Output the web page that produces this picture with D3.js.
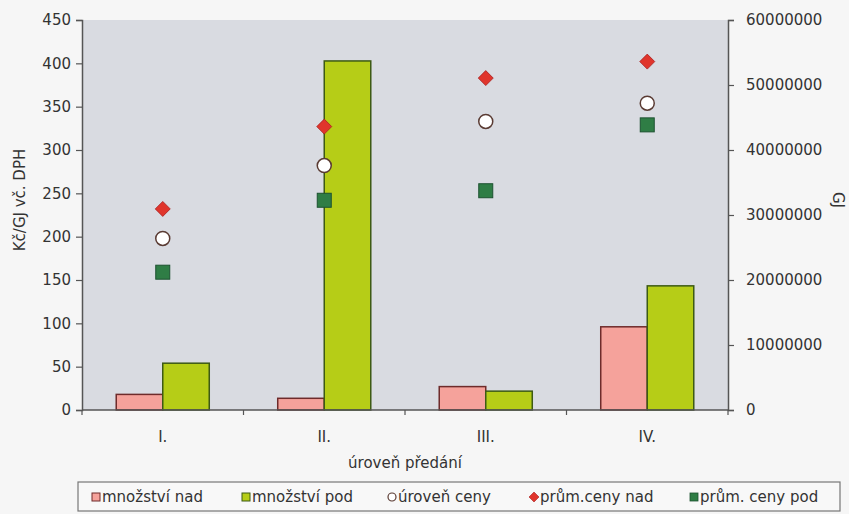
<!DOCTYPE html>
<html>
<head>
<meta charset="utf-8">
<script src="https://cdn.jsdelivr.net/npm/d3@7"></script>
<style>
  html, body { margin: 0; padding: 0; background: #f6f6f6; }
  svg { display: block; }
  text { font-family: "DejaVu Sans", "Liberation Sans", Arial, sans-serif; fill: #333; }
</style>
</head>
<body>
<svg id="chart" width="849" height="514"></svg>
<script>
// ---- data ----
const categories = ["I.", "II.", "III.", "IV."];
const mnozstviNad = [2400000, 1800000, 3600000, 12800000];   // GJ (right axis)
const mnozstviPod = [7200000, 53700000, 2900000, 19100000];  // GJ (right axis)
const urovenCeny  = [198, 282, 333, 354];                    // Kč/GJ (left axis)
const prumCenyNad = [232, 327, 383, 402];
const prumCenyPod = [159, 242, 253, 329];
const leftTicks  = [0, 50, 100, 150, 200, 250, 300, 350, 400, 450];
const rightTicks = [0, 10000000, 20000000, 30000000, 40000000, 50000000, 60000000];
const legendLabels = ["množství nad", "množství pod", "úroveň ceny", "prům.ceny nad", "prům. ceny pod"];

// ---- layout ----
const L = 82, R = 728, T = 20, B = 410;
const svg = d3.select("#chart");

const x = d3.scaleBand().domain(categories).range([L, R]).paddingInner(0.424).paddingOuter(0.212);
const xs = d3.scaleBand().domain(["nad", "pod"]).range([0, x.bandwidth()]);
const yL = d3.scaleLinear().domain([0, 450]).range([B, T]);
const yR = d3.scaleLinear().domain([0, 60000000]).range([B, T]);

// plot background
svg.append("rect").attr("x", L).attr("y", T).attr("width", R - L).attr("height", B - T)
  .attr("fill", "#d9dbe1");

const colors = {
  nadFill: "#f5a29b", nadStroke: "#6e2b2b",
  podFill: "#b6cd17", podStroke: "#3d5a14",
  diamond: "#e0352c", diamondStroke: "#a82020",
  square: "#2f7d45", squareStroke: "#1d5230",
  circleStroke: "#5a3b33"
};

// bars
const g = svg.append("g");
categories.forEach((c, i) => {
  g.append("rect")
    .attr("x", x(c) + xs("nad")).attr("y", yR(mnozstviNad[i]))
    .attr("width", xs.bandwidth()).attr("height", B - yR(mnozstviNad[i]))
    .attr("fill", colors.nadFill).attr("stroke", colors.nadStroke).attr("stroke-width", 1.5);
  g.append("rect")
    .attr("x", x(c) + xs("pod")).attr("y", yR(mnozstviPod[i]))
    .attr("width", xs.bandwidth()).attr("height", B - yR(mnozstviPod[i]))
    .attr("fill", colors.podFill).attr("stroke", colors.podStroke).attr("stroke-width", 1.5);
});

// markers
const cx = c => x(c) + x.bandwidth() / 2;
const diamondPath = (s) => `M0,${-s}L${s},0L0,${s}L${-s},0Z`;
categories.forEach((c, i) => {
  g.append("rect")
    .attr("x", cx(c) - 7).attr("y", yL(prumCenyPod[i]) - 7).attr("width", 14).attr("height", 14)
    .attr("fill", colors.square).attr("stroke", colors.squareStroke).attr("stroke-width", 1);
  g.append("circle")
    .attr("cx", cx(c)).attr("cy", yL(urovenCeny[i])).attr("r", 7)
    .attr("fill", "#ffffff").attr("stroke", colors.circleStroke).attr("stroke-width", 1.5);
  g.append("path")
    .attr("transform", `translate(${cx(c)},${yL(prumCenyNad[i])})`)
    .attr("d", diamondPath(7.5))
    .attr("fill", colors.diamond).attr("stroke", colors.diamondStroke).attr("stroke-width", 0.8);
});

// axes
const axisColor = "#555";
const leftAxis = svg.append("g").attr("transform", `translate(${L},0)`)
  .call(d3.axisLeft(yL).tickValues(leftTicks).tickSize(6).tickPadding(5));
const rightAxis = svg.append("g").attr("transform", `translate(${R},0)`)
  .call(d3.axisRight(yR).tickValues(rightTicks).tickSize(6).tickPadding(12).tickFormat(d3.format("d")));
[leftAxis, rightAxis].forEach(a => {
  a.select(".domain").attr("stroke", axisColor).attr("stroke-width", 1.5);
  a.selectAll(".tick line").attr("stroke", axisColor).attr("stroke-width", 1.2);
  a.selectAll(".tick text").attr("font-size", 15).attr("fill", "#333")
    .attr("font-family", "DejaVu Sans, sans-serif");
});

// bottom axis line and ticks between categories
const bottom = svg.append("g");
bottom.append("line").attr("x1", L).attr("x2", R).attr("y1", B).attr("y2", B)
  .attr("stroke", axisColor).attr("stroke-width", 1.5);
const boundaries = d3.range(categories.length + 1).map(k => L + k * x.step());
bottom.selectAll(".xt").data(boundaries).join("line")
  .attr("x1", d => d).attr("x2", d => d).attr("y1", B).attr("y2", B + 5)
  .attr("stroke", axisColor).attr("stroke-width", 1.2);
bottom.selectAll(".xl").data(categories).join("text")
  .attr("x", d => cx(d)).attr("y", 442).attr("text-anchor", "middle")
  .attr("font-size", 15).text(d => d);

// axis titles
svg.append("text").attr("transform", "translate(25,200) rotate(-90)")
  .attr("text-anchor", "middle").attr("font-size", 15).text("Kč/GJ vč. DPH");
svg.append("text").attr("transform", "translate(833,200) rotate(90)")
  .attr("text-anchor", "middle").attr("font-size", 15).text("GJ");
svg.append("text").attr("x", 405).attr("y", 468).attr("text-anchor", "middle")
  .attr("font-size", 15).text("úroveň předání");

// legend
const leg = svg.append("g");
leg.append("rect").attr("x", 78).attr("y", 482).attr("width", 762).attr("height", 29)
  .attr("fill", "#f8f8f8").attr("stroke", "#777").attr("stroke-width", 1.2);
const legX = [96, 246, 392, 534, 694];
const ly = 497;
legendLabels.forEach((lab, i) => {
  const sx = legX[i];
  if (i === 0 || i === 1) {
    leg.append("rect").attr("x", sx - 4).attr("y", ly - 4).attr("width", 8).attr("height", 8)
      .attr("fill", i === 0 ? colors.nadFill : colors.podFill)
      .attr("stroke", i === 0 ? colors.nadStroke : colors.podStroke).attr("stroke-width", 1);
  } else if (i === 2) {
    leg.append("circle").attr("cx", sx).attr("cy", ly).attr("r", 4)
      .attr("fill", "#fff").attr("stroke", colors.circleStroke).attr("stroke-width", 1.2);
  } else if (i === 3) {
    leg.append("path").attr("transform", `translate(${sx},${ly})`).attr("d", diamondPath(5))
      .attr("fill", colors.diamond).attr("stroke", colors.diamondStroke).attr("stroke-width", 0.6);
  } else {
    leg.append("rect").attr("x", sx - 4).attr("y", ly - 4).attr("width", 8).attr("height", 8)
      .attr("fill", colors.square).attr("stroke", colors.squareStroke).attr("stroke-width", 0.8);
  }
  leg.append("text").attr("x", sx + 6).attr("y", ly + 5).attr("font-size", 15).text(lab);
});
</script>
</body>
</html>
